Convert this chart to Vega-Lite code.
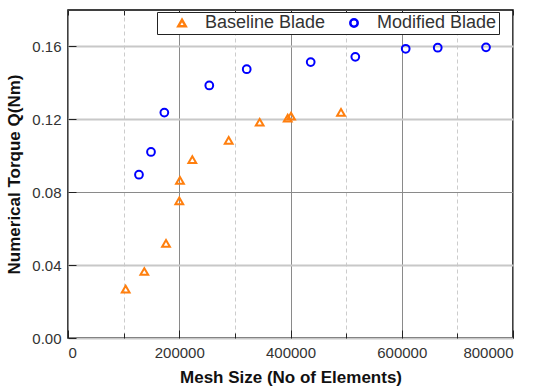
{
  "$schema": "https://vega.github.io/schema/vega-lite/v6.json",
  "width": 445,
  "height": 328,
  "autosize": {"type": "none"},
  "padding": {"left": 68, "top": 10, "right": 24, "bottom": 50},
  "background": "white",
  "config": {
    "font": "Liberation Sans",
    "view": {"stroke": "black", "strokeWidth": 1.5},
    "axis": {
      "labelFont": "Liberation Sans",
      "labelFontSize": 15,
      "labelColor": "#333333",
      "titleFont": "Liberation Sans",
      "titleFontSize": 17,
      "titleFontWeight": "bold",
      "titleColor": "#111111",
      "domain": false,
      "tickColor": "#222222"
    }
  },
  "data": {
    "values": [
      {"mesh": 103700, "torque": 0.0268, "series": "Baseline Blade"},
      {"mesh": 137200, "torque": 0.0365, "series": "Baseline Blade"},
      {"mesh": 176200, "torque": 0.0519, "series": "Baseline Blade"},
      {"mesh": 200100, "torque": 0.0753, "series": "Baseline Blade"},
      {"mesh": 201300, "torque": 0.0865, "series": "Baseline Blade"},
      {"mesh": 223500, "torque": 0.0979, "series": "Baseline Blade"},
      {"mesh": 288900, "torque": 0.1085, "series": "Baseline Blade"},
      {"mesh": 344600, "torque": 0.1184, "series": "Baseline Blade"},
      {"mesh": 395000, "torque": 0.1207, "series": "Baseline Blade"},
      {"mesh": 401000, "torque": 0.1218, "series": "Baseline Blade"},
      {"mesh": 490800, "torque": 0.1238, "series": "Baseline Blade"},
      {"mesh": 127600, "torque": 0.0896, "series": "Modified Blade"},
      {"mesh": 149200, "torque": 0.1021, "series": "Modified Blade"},
      {"mesh": 173200, "torque": 0.1237, "series": "Modified Blade"},
      {"mesh": 254000, "torque": 0.1386, "series": "Modified Blade"},
      {"mesh": 321300, "torque": 0.1475, "series": "Modified Blade"},
      {"mesh": 436300, "torque": 0.1514, "series": "Modified Blade"},
      {"mesh": 516500, "torque": 0.1543, "series": "Modified Blade"},
      {"mesh": 607100, "torque": 0.1587, "series": "Modified Blade"},
      {"mesh": 664700, "torque": 0.1593, "series": "Modified Blade"},
      {"mesh": 751500, "torque": 0.1595, "series": "Modified Blade"}
    ]
  },
  "resolve": {"axis": {"x": "independent"}},
  "layer": [
    {
      "mark": {"type": "point", "filled": false, "strokeWidth": 2, "opacity": 1},
      "encoding": {
        "x": {
          "field": "mesh",
          "type": "quantitative",
          "scale": {"domain": [0, 800000], "nice": false, "zero": false},
          "axis": {
            "orient": "bottom",
            "title": "Mesh Size (No of Elements)",
            "values": [0, 100000, 200000, 300000, 400000, 500000, 600000, 700000, 800000],
            "labelExpr": "datum.value % 200000 === 0 ? format(datum.value, 'd') : ''",
            "labelPadding": 15,
            "titlePadding": 9,
            "tickSize": {"condition": {"test": "datum.value % 200000 === 0", "value": -8}, "value": -5},
            "gridColor": {"condition": {"test": "datum.value % 200000 === 0", "value": "#8a8a8a"}, "value": "#cccccc"},
            "gridDash": {"condition": {"test": "datum.value % 200000 === 0", "value": []}, "value": [4, 3]},
            "gridWidth": 1
          }
        },
        "y": {
          "field": "torque",
          "type": "quantitative",
          "scale": {"domain": [0, 0.18], "nice": false, "zero": false},
          "axis": {
            "title": "Numerical Torque Q(Nm)",
            "values": [0, 0.02, 0.04, 0.06, 0.08, 0.1, 0.12, 0.14, 0.16, 0.18],
            "labelExpr": "(round(datum.value * 100) % 4 === 0 && datum.value < 0.17) ? format(datum.value, '.2f') : ''",
            "labelPadding": 15,
            "titlePadding": 8,
            "tickSize": {"condition": {"test": "round(datum.value * 100) % 4 === 0", "value": -8}, "value": -5},
            "gridColor": {"condition": {"test": "round(datum.value * 100) === 8", "value": "#8a8a8a"}, "value": "#c8c8c8"},
            "gridDash": {"condition": {"test": "round(datum.value * 100) % 4 === 0", "value": []}, "value": [4, 3]},
            "gridWidth": {"condition": {"test": "round(datum.value * 100) % 4 === 0 && round(datum.value * 100) !== 8", "value": 2}, "value": 1}
          }
        },
        "color": {
          "field": "series",
          "type": "nominal",
          "scale": {"domain": ["Baseline Blade", "Modified Blade"], "range": ["#ff7f0e", "#0000ff"]},
          "legend": {
            "title": null,
            "orient": "none",
            "legendX": 89,
            "legendY": 2,
            "direction": "horizontal",
            "fillColor": "white",
            "strokeColor": "#222222",
            "padding": 2,
            "symbolOffset": 14,
            "labelOffset": 14,
            "columnPadding": 5,
            "labelFontSize": 18,
            "labelColor": "#333333",
            "labelFont": "Liberation Sans",
            "symbolStrokeWidth": 2.5,
            "symbolSize": 55
          }
        },
        "shape": {
          "field": "series",
          "type": "nominal",
          "scale": {"domain": ["Baseline Blade", "Modified Blade"], "range": ["triangle-up", "circle"]},
          "legend": null
        },
        "size": {"value": 60}
      }
    },
    {
      "mark": {"type": "point", "opacity": 0},
      "encoding": {
        "x": {
          "field": "mesh",
          "type": "quantitative",
          "axis": {
            "orient": "top",
            "title": null,
            "labels": false,
            "grid": false,
            "values": [0, 100000, 200000, 300000, 400000, 500000, 600000, 700000, 800000],
            "tickSize": -5
          }
        },
        "y": {"field": "torque", "type": "quantitative"}
      }
    }
  ]
}
